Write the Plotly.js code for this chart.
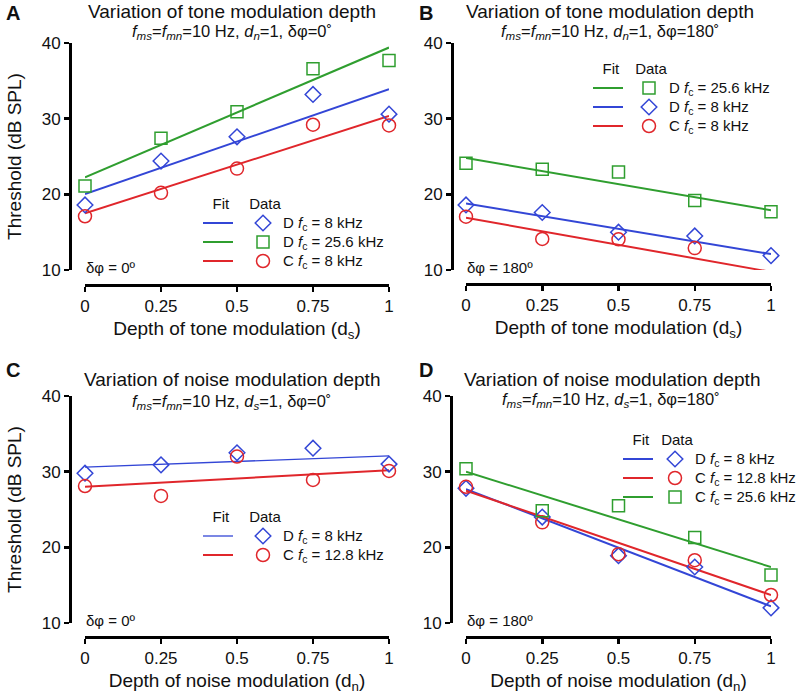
<!DOCTYPE html>
<html>
<head>
<meta charset="utf-8">
<script src="https://cdn.plot.ly/plotly-3.0.1.min.js"></script>
<style>
  html, body { margin: 0; padding: 0; background: #fff; }
  #chart { width: 799px; height: 698px; }
</style>
</head>
<body>
<div id="chart"></div>
<script>
// Modulation depth (x) shared by all panels
const depth = [0, 0.25, 0.5, 0.75, 1];
const fitDepth = [0, 1];

// Panel A: tone depth, dphi = 0
const aD8 = [18.6, 24.4, 27.6, 33.2, 30.6];
const aD256 = [21.1, 27.4, 30.9, 36.6, 37.7];
const aC8 = [17.1, 20.2, 23.4, 29.2, 29.1];
const aFitD8 = [20.05, 33.9];
const aFitD256 = [22.25, 39.4];
const aFitC8 = [17.5, 30.35];

// Panel B: tone depth, dphi = 180
const bD256 = [24.1, 23.3, 22.95, 19.2, 17.7];
const bD8 = [18.6, 17.6, 15.0, 14.5, 11.9];
const bC8 = [17.05, 14.1, 14.05, 12.9, 8.6];
const bFitD256 = [24.8, 17.9];
const bFitD8 = [18.8, 12.1];
const bFitC8 = [16.9, 9.75];

// Panel C: noise depth, dphi = 0
const cD8 = [29.8, 30.9, 32.5, 33.1, 31.0];
const cC128 = [28.1, 26.8, 32.0, 28.9, 30.1];
const cFitD8 = [30.6, 32.1];
const cFitC128 = [28.0, 30.2];

// Panel D: noise depth, dphi = 180
const dD8 = [27.8, 24.0, 18.9, 17.4, 12.0];
const dC128 = [28.0, 23.3, 19.1, 18.3, 13.7];
const dC256 = [30.4, 24.85, 25.5, 21.3, 16.35];
const dFitD8 = [27.7, 12.2];
const dFitC128 = [27.5, 13.7];
const dFitC256 = [30.0, 17.4];

const xTickVals = [0, 0.25, 0.5, 0.75, 1];
const xTickText = ['0', '0.25', '0.5', '0.75', '1'];
const yTickVals = [10, 20, 30, 40];

const W = 799, H = 698;
const FONT = 'Liberation Sans, Arial, Helvetica, sans-serif';
const BLUE = '#3346d6';
const GREEN = '#2f9e2f';
const RED = '#e0262b';

const px = v => v / W;
const py = v => 1 - v / H;

const lab = (grp, fc) => `<span style="font-size:15px">${grp} <i>f</i><sub>c</sub> = ${fc} kHz</span>`;

const SYM = {
  diamond: { symbol: 'diamond-open', size: 12 },
  square: { symbol: 'square-open', size: 12 },
  circle: { symbol: 'circle-open', size: 13 }
};

/**
 * Data markers for one series
 */
function dataTrace(ax, ys, shape, color, name, legend) {
  return {
    x: depth, y: ys, xaxis: ax[0], yaxis: ax[1],
    type: 'scatter', mode: 'markers', name: name, legend: legend,
    cliponaxis: false,
    marker: { symbol: SYM[shape].symbol, size: SYM[shape].size, color: color, line: { color: color, width: 1.5 } },
    hoverinfo: 'skip'
  };
}

/**
 * Straight-line fit for one series
 */
function fitTrace(ax, ys, color, legend, width) {
  return {
    x: fitDepth, y: ys, xaxis: ax[0], yaxis: ax[1],
    type: 'scatter', mode: 'lines', name: '\u00a0', legend: legend,
    cliponaxis: false,
    line: { color: color, width: width || 2 },
    hoverinfo: 'skip'
  };
}

const A = ['x', 'y'], B = ['x2', 'y2'], C = ['x3', 'y3'], D = ['x4', 'y4'];

const data = [
  // A
  fitTrace(A, aFitD8, BLUE, 'legend'),
  fitTrace(A, aFitD256, GREEN, 'legend'),
  fitTrace(A, aFitC8, RED, 'legend'),
  dataTrace(A, aD8, 'diamond', BLUE, lab('D', '8'), 'legend2'),
  dataTrace(A, aD256, 'square', GREEN, lab('D', '25.6'), 'legend2'),
  dataTrace(A, aC8, 'circle', RED, lab('C', '8'), 'legend2'),
  // B
  fitTrace(B, bFitD256, GREEN, 'legend3'),
  fitTrace(B, bFitD8, BLUE, 'legend3'),
  fitTrace(B, bFitC8, RED, 'legend3'),
  dataTrace(B, bD256, 'square', GREEN, lab('D', '25.6'), 'legend4'),
  dataTrace(B, bD8, 'diamond', BLUE, lab('D', '8'), 'legend4'),
  dataTrace(B, bC8, 'circle', RED, lab('C', '8'), 'legend4'),
  // C
  fitTrace(C, cFitD8, BLUE, 'legend5', 1.3),
  fitTrace(C, cFitC128, RED, 'legend5'),
  dataTrace(C, cD8, 'diamond', BLUE, lab('D', '8'), 'legend6'),
  dataTrace(C, cC128, 'circle', RED, lab('C', '12.8'), 'legend6'),
  // D
  fitTrace(D, dFitD8, BLUE, 'legend7'),
  fitTrace(D, dFitC128, RED, 'legend7'),
  fitTrace(D, dFitC256, GREEN, 'legend7'),
  dataTrace(D, dD8, 'diamond', BLUE, lab('D', '8'), 'legend8'),
  dataTrace(D, dC128, 'circle', RED, lab('C', '12.8'), 'legend8'),
  dataTrace(D, dC256, 'square', GREEN, lab('C', '25.6'), 'legend8')
];

// Panel boxes in pixels: plot left/right/top/bottom, y-axis line x, x-axis line y
const boxes = [
  { l: 85, r: 389, t: 43, b: 270, yx: 70, xy: 285 },
  { l: 466, r: 771, t: 43, b: 270, yx: 452, xy: 284 },
  { l: 85, r: 389, t: 396, b: 623, yx: 70, xy: 637 },
  { l: 466, r: 771, t: 396, b: 623, yx: 451, xy: 637 }
];

const axisCommon = {
  showline: true, linecolor: '#000', linewidth: 2.5,
  ticks: 'outside', ticklen: 5, tickwidth: 2.5, tickcolor: '#000',
  showgrid: false, zeroline: false, fixedrange: true,
  tickfont: { family: FONT, size: 17, color: '#111' }
};

function xAxis(bx, title) {
  return Object.assign({}, axisCommon, {
    domain: [px(bx.l), px(bx.r)], range: [0, 1], anchor: 'free', position: py(bx.xy),
    tickvals: xTickVals, ticktext: xTickText,
    title: { text: title, font: { family: FONT, size: 19, color: '#111' }, standoff: 6 }
  });
}

function yAxis(bx, title) {
  return Object.assign({}, axisCommon, {
    domain: [py(bx.b), py(bx.t)], range: [10, 40], anchor: 'free', position: px(bx.yx),
    tickvals: yTickVals,
    title: { text: title, font: { family: FONT, size: 19, color: '#111' }, standoff: 14 }
  });
}

const toneTitle = 'Depth of tone modulation (d<sub>s</sub>)';
const noiseTitle = 'Depth of noise modulation (d<sub>n</sub>)';
const yTitle = 'Threshold (dB SPL)';

function legendAt(left, top, title) {
  return {
    x: px(left), y: py(top), xanchor: 'left', yanchor: 'top',
    bgcolor: 'rgba(0,0,0,0)', borderwidth: 0,
    font: { family: FONT, size: 12, color: '#111' },
    title: { text: title, font: { family: FONT, size: 15, color: '#111' } },
    traceorder: 'normal', itemclick: false, itemdoubleclick: false
  };
}

const sub = (ds, dn, ph) =>
  `<i>f</i><sub><i>ms</i></sub>=<i>f</i><sub><i>mn</i></sub>=10 Hz, <i>d</i><sub><i>${ds}</i></sub>=1, δφ=${ph}˚`;

function txt(x, y, text, size, extra) {
  return Object.assign({
    xref: 'paper', yref: 'paper', x: px(x), y: py(y), text: text, showarrow: false,
    xanchor: 'center', yanchor: 'middle',
    font: { family: FONT, size: size, color: '#111' }
  }, extra || {});
}

function phase(ax, text) {
  return {
    xref: ax[0], yref: ax[1], x: 0, y: 10, xanchor: 'left', yanchor: 'middle',
    yshift: 3, xshift: -1, text: text, showarrow: false,
    font: { family: FONT, size: 15, color: '#111' }
  };
}

const annotations = [
  txt(4, 13, '<b>A</b>', 20, { xanchor: 'left' }),
  txt(417, 13, '<b>B</b>', 20, { xanchor: 'left' }),
  txt(4, 370, '<b>C</b>', 20, { xanchor: 'left' }),
  txt(417, 370, '<b>D</b>', 20, { xanchor: 'left' }),
  txt(232, 12, 'Variation of tone modulation depth', 19),
  txt(610, 12, 'Variation of tone modulation depth', 19),
  txt(232, 379, 'Variation of noise modulation depth', 19),
  txt(612, 379, 'Variation of noise modulation depth', 19),
  txt(232, 32, sub('n', 'n', '0'), 16.5),
  txt(610, 32, sub('n', 'n', '180'), 16.5),
  txt(232, 402, sub('s', 's', '0'), 16.5),
  txt(611, 400, sub('s', 's', '180'), 16.5),
  phase(A, 'δφ = 0º'),
  phase(B, 'δφ = 180º'),
  phase(C, 'δφ = 0º'),
  phase(D, 'δφ = 180º')
];

const layout = {
  width: W, height: H,
  margin: { l: 0, r: 0, t: 0, b: 0, autoexpand: false },
  paper_bgcolor: '#fff', plot_bgcolor: '#fff',
  font: { family: FONT, color: '#111' },
  showlegend: true,
  xaxis: xAxis(boxes[0], toneTitle),
  yaxis: yAxis(boxes[0], yTitle),
  xaxis2: xAxis(boxes[1], toneTitle),
  yaxis2: yAxis(boxes[1], ''),
  xaxis3: xAxis(boxes[2], noiseTitle),
  yaxis3: yAxis(boxes[2], yTitle),
  xaxis4: xAxis(boxes[3], noiseTitle),
  yaxis4: yAxis(boxes[3], ''),
  legend: legendAt(198, 189, '\u00a0\u00a0\u00a0Fit'),
  legend2: legendAt(243, 189, '\u00a0Data'),
  legend3: legendAt(588, 54, '\u00a0\u00a0\u00a0Fit'),
  legend4: legendAt(629, 54, '\u00a0Data'),
  legend5: legendAt(198, 502, '\u00a0\u00a0\u00a0Fit'),
  legend6: legendAt(243, 502, '\u00a0Data'),
  legend7: legendAt(618, 425, '\u00a0\u00a0\u00a0Fit'),
  legend8: legendAt(655, 425, '\u00a0Data'),
  annotations: annotations
};

const config = { displayModeBar: false, responsive: false, staticPlot: true };

Plotly.newPlot('chart', data, layout, config);
</script>
</body>
</html>
